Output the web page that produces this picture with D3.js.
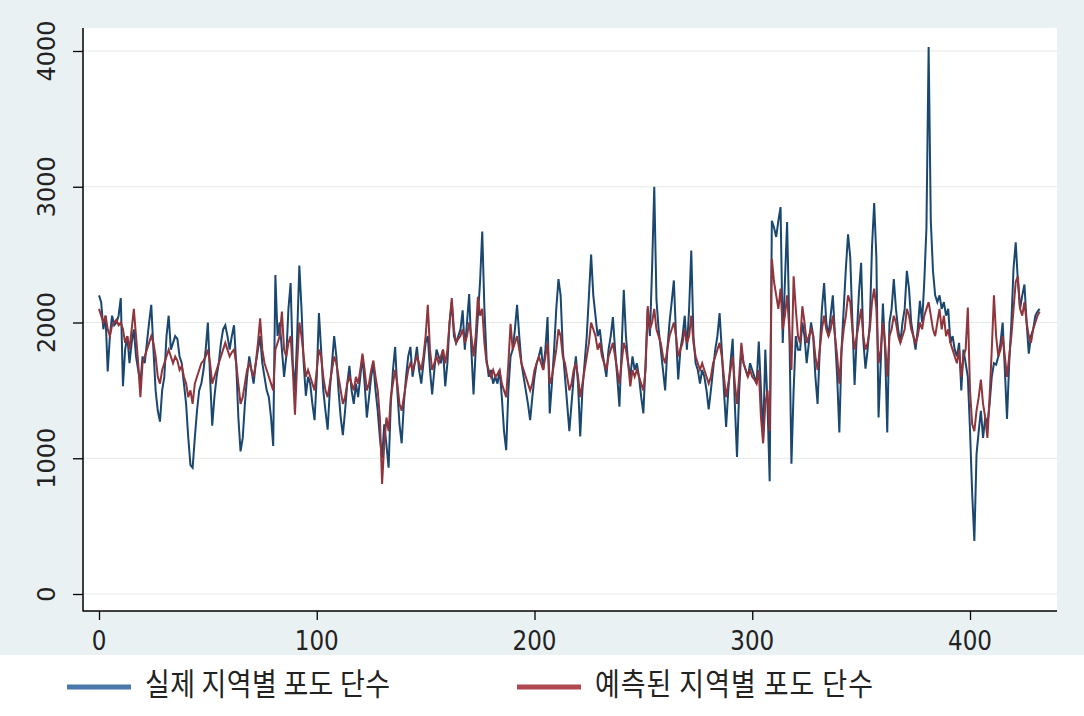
<!DOCTYPE html>
<html><head><meta charset="utf-8">
<script src="https://cdn.jsdelivr.net/npm/d3@7"></script>
<style>html,body{margin:0;padding:0;background:#fff;}svg{display:block;}</style>
</head><body>
<svg id="chart" width="1084" height="716"></svg>
<script>
const seriesNames = ["실제 지역별 포도 단수", "예측된 지역별 포도 단수"];
const xTicks = [0, 100, 200, 300, 400];
const yTicks = [0, 1000, 2000, 3000, 4000];
const actualYield = [
2200,2150,1950,2050,1640,1900,2050,1980,2000,2050,
2180,1530,1800,1900,1700,1850,1950,1750,1650,1550,
1750,1700,1850,2000,2130,1800,1500,1350,1270,1500,
1600,1900,2050,1800,1850,1900,1880,1750,1700,1550,
1400,1150,950,930,1150,1350,1500,1550,1650,1800,
2000,1600,1240,1450,1600,1700,1850,1950,1980,1900,
1800,1900,1980,1700,1300,1050,1150,1400,1600,1750,
1650,1550,1700,1800,1900,1700,1600,1500,1450,1300,
1090,2350,1900,2000,1800,1600,1750,2100,2290,1700,
1500,1900,2420,2100,1700,1460,1600,1550,1400,1280,
1600,2070,1800,1500,1350,1210,1500,1700,1900,1750,
1500,1300,1170,1350,1550,1680,1500,1400,1550,1450,
1600,1750,1550,1300,1450,1600,1700,1500,1350,1150,
1000,1250,1100,930,1400,1650,1820,1500,1250,1110,
1400,1600,1750,1820,1600,1700,1820,1650,1550,1700,
1850,1900,1650,1470,1650,1800,1750,1700,1800,1530,
1700,2000,2150,1900,1850,1900,1950,2090,1800,2000,
2210,1800,1470,1800,2050,2300,2670,2100,1730,1600,
1650,1550,1600,1550,1650,1450,1200,1060,1500,1750,
1800,1950,2130,1900,1700,1600,1500,1400,1280,1450,
1600,1700,1750,1820,1650,1800,2040,1330,1550,1800,
2100,2320,2200,1800,1600,1400,1200,1400,1600,1750,
1550,1160,1500,1700,1900,2200,2500,2200,2050,1900,
1950,1800,1700,1600,1800,1900,2040,1800,1600,1380,
1800,2240,1900,1700,1600,1750,1650,1700,1600,1450,
1330,1700,2100,1900,2400,3000,2170,1950,1800,1650,
1500,1800,2000,2150,2310,1900,1580,1800,1900,2050,
1800,2100,2530,1900,1700,1650,1550,1650,1600,1500,
1360,1500,1650,1800,1900,2070,1800,1500,1230,1500,
1700,1880,1400,1010,1500,1800,1700,1650,1600,1700,
1650,1600,1550,1860,1500,1150,1800,1400,830,2750,
2700,2630,2750,2850,1850,2300,2740,2000,960,1500,
1900,1800,1800,2000,1900,1700,1850,2000,1900,1600,
1400,1800,2100,2290,2000,1900,2050,2200,1900,1600,
1190,1800,2100,2400,2650,2480,2000,1540,1900,2220,
2440,1870,1660,1800,2000,2560,2880,2480,1300,1700,
2140,1800,1190,2000,2100,2320,2100,1950,1850,2000,
2100,2380,2250,2000,1900,1800,1950,2160,2000,2300,
2700,4030,2750,2380,2200,2150,2200,2100,2150,2050,
2100,1850,1900,1800,1750,1850,1500,1800,1700,1600,
1210,740,390,1030,1200,1350,1150,1300,1250,1400,
1600,1700,1690,1750,1850,2000,1650,1290,1700,2000,
2400,2590,2300,2100,2200,2280,2000,1770,1900,1950,
2050,2080,2100
];
const predictedYield = [
2100,2050,2000,2050,1950,1900,1980,2000,2020,1980,
2000,1950,1850,1900,1800,1950,2100,1900,1700,1450,
1700,1750,1800,1850,1900,1850,1750,1600,1550,1650,
1700,1750,1800,1750,1700,1750,1720,1650,1680,1600,
1550,1450,1500,1400,1550,1600,1650,1700,1720,1750,
1800,1700,1550,1600,1650,1700,1750,1800,1850,1800,
1750,1780,1800,1700,1550,1400,1450,1550,1650,1700,
1650,1600,1700,1850,2030,1800,1700,1650,1600,1550,
1500,1800,1850,1900,2080,1800,1750,1850,1900,1650,
1320,1700,2000,1900,1750,1600,1650,1600,1550,1500,
1650,1800,1750,1600,1500,1450,1550,1650,1750,1700,
1600,1500,1400,1450,1550,1600,1550,1500,1600,1550,
1650,1770,1650,1500,1550,1650,1720,1600,1500,1300,
810,1100,1300,1200,1450,1550,1650,1550,1400,1350,
1450,1550,1650,1700,1650,1700,1750,1700,1650,1750,
1900,2130,1800,1650,1700,1750,1700,1750,1800,1700,
1800,2000,2180,1950,1850,1880,1900,1950,1850,1900,
2000,1900,1750,1900,2190,2050,2100,1850,1700,1650,
1600,1650,1600,1620,1650,1550,1500,1450,1700,1990,
1800,1850,1900,1800,1700,1650,1600,1550,1500,1550,
1650,1700,1750,1700,1650,1750,1850,1550,1600,1700,
1800,1950,1900,1750,1700,1600,1500,1550,1650,1700,
1600,1450,1550,1650,1750,1850,2000,1950,1900,1800,
1850,1750,1700,1650,1750,1800,1850,1750,1650,1550,
1700,1850,1800,1700,1530,1650,1600,1650,1600,1550,
1500,1650,2120,1950,2000,2100,1950,1900,1850,1750,
1700,1800,1900,1950,2000,1900,1750,1800,1850,1950,
1850,1900,2050,1850,1750,1700,1650,1700,1650,1600,
1550,1600,1700,1750,1800,1850,1750,1600,1450,1550,
1650,1750,1550,1400,1600,1850,1700,1650,1600,1650,
1600,1580,1550,1650,1300,1110,1400,1500,1200,2470,
2300,2200,2100,2250,1950,2050,2200,1950,1650,2340,
2100,1900,1850,2120,2000,1850,1900,1950,1900,1750,
1650,1800,1950,2050,1950,1900,1950,2050,1900,1750,
1550,1800,1950,2050,2200,2150,1950,1800,1900,2000,
2100,1900,1800,1850,1950,2150,2250,2100,1700,1800,
2000,1850,1600,1900,1950,2050,2000,1900,1850,1900,
1950,2100,2050,1950,1900,1850,1900,2000,1950,2050,
2100,2150,2050,1950,1900,2000,2100,1950,2050,1900,
1950,1850,1800,1750,1700,1800,1600,1750,1800,2110,
1500,1250,1200,1350,1450,1580,1400,1300,1150,1450,
1800,2200,1900,1750,1800,1900,1750,1600,1750,1900,
2100,2300,2340,2100,2050,2150,2000,1900,1850,1950,
2000,2050,2080
];
const obsIndex = actualYield.map((_, i) => i);

const svg = d3.select("#chart");
const W = 1084, H = 716;
const plot = {left: 83, right: 1057, top: 28, bottom: 611};

svg.append("rect").attr("x",0).attr("y",0).attr("width",W).attr("height",H).attr("fill","#ffffff");
svg.append("rect").attr("x",0).attr("y",0).attr("width",W).attr("height",655).attr("fill","#EAF1F2");
svg.append("rect").attr("x",plot.left).attr("y",plot.top).attr("width",plot.right-plot.left).attr("height",plot.bottom-plot.top).attr("fill","#ffffff");

const x = d3.scaleLinear().domain([0,400]).range([99,970]);
const y = d3.scaleLinear().domain([0,4000]).range([594,51]);

svg.append("g").selectAll("line").data(yTicks).join("line")
  .attr("x1",plot.left).attr("x2",plot.right)
  .attr("y1",d=>y(d)).attr("y2",d=>y(d))
  .attr("stroke","#E6E9E9").attr("stroke-width",1.2);

const mkLine = vals => d3.line().x((d,i)=>x(obsIndex[i])).y(d=>y(d))(vals);
svg.append("path").attr("d", mkLine(actualYield)).attr("fill","none")
  .attr("stroke","#1A476F").attr("stroke-width",2).attr("stroke-linejoin","miter");
svg.append("path").attr("d", mkLine(predictedYield)).attr("fill","none")
  .attr("stroke","#90353B").attr("stroke-width",2).attr("stroke-linejoin","miter");

const yAxis = d3.axisLeft(y).tickValues(yTicks).tickSize(10).tickFormat("");
const gy = svg.append("g").attr("transform",`translate(${plot.left},0)`).call(yAxis);
gy.select(".domain").remove();
gy.selectAll(".tick line").attr("stroke","#000").attr("stroke-width",1.3);
const xAxis = d3.axisBottom(x).tickValues(xTicks).tickSize(9).tickFormat("");
const gx = svg.append("g").attr("transform",`translate(0,${plot.bottom})`).call(xAxis);
gx.select(".domain").remove();
gx.selectAll(".tick line").attr("stroke","#000").attr("stroke-width",1.3);

svg.append("line").attr("x1",plot.left).attr("x2",plot.left).attr("y1",plot.top).attr("y2",plot.bottom+0.5).attr("stroke","#000").attr("stroke-width",1.5);
svg.append("line").attr("x1",plot.left).attr("x2",plot.right).attr("y1",plot.bottom).attr("y2",plot.bottom).attr("stroke","#000").attr("stroke-width",1.5);

svg.append("g").selectAll("text").data(yTicks).join("text")
  .attr("transform",d=>`translate(55,${y(d)}) rotate(-90)`)
  .attr("text-anchor","middle")
  .attr("font-family","DejaVu Sans").attr("font-size",24).attr("fill","#222")
  .text(d=>d);
svg.append("g").selectAll("text").data(xTicks).join("text")
  .attr("transform",d=>`translate(${x(d)},650) scale(0.96,1.14)`)
  .attr("text-anchor","middle")
  .attr("font-family","DejaVu Sans").attr("font-size",24).attr("fill","#222")
  .text(d=>d);

const legend = [
  {name: seriesNames[0], color:"#4A78AA", x1:67, x2:131, tx:145, tl:245},
  {name: seriesNames[1], color:"#B0484F", x1:517, x2:581, tx:595, tl:278}
];
legend.forEach(l=>{
  svg.append("line").attr("x1",l.x1).attr("x2",l.x2).attr("y1",687).attr("y2",687)
    .attr("stroke",l.color).attr("stroke-width",5);
  svg.append("text").attr("transform",`translate(${l.tx},695) scale(1,1.12)`)
    .attr("font-family","Noto Sans CJK KR").attr("font-size",27).attr("fill","#222")
    .attr("textLength",l.tl).attr("lengthAdjust","spacing")
    .text(l.name);
});
</script>
</body></html>
